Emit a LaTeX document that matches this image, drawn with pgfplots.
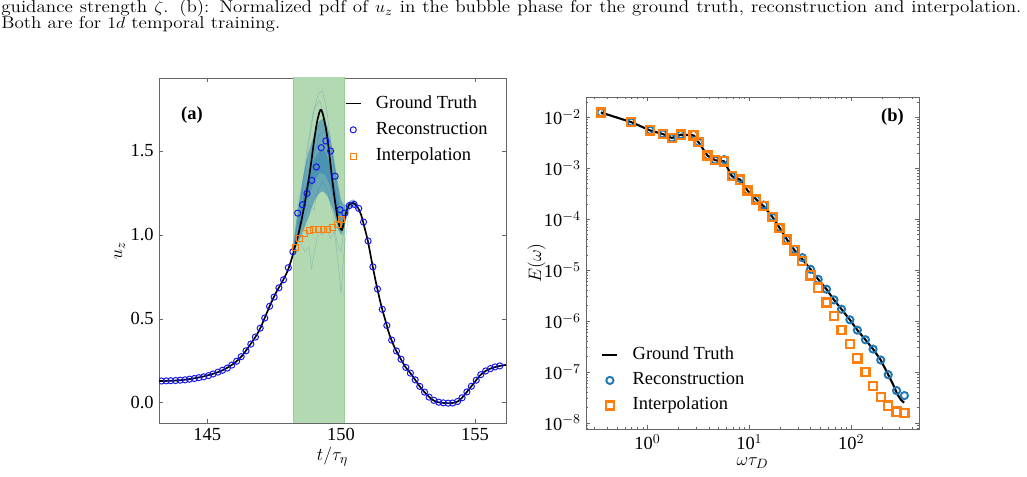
\documentclass[border=0pt]{standalone}
\usepackage{fontspec}
\usepackage{graphicx}
\usepackage{pgfplots}
\pgfplotsset{compat=1.18}
\newfontfamily\timesfont{Liberation Serif}
\newcommand\tfont{\timesfont\fontsize{12.3}{14}\selectfont}

\definecolor{bandgreen}{rgb}{0.698,0.851,0.698}
\definecolor{bandedge}{rgb}{0.60,0.80,0.60}
\definecolor{ensblue}{HTML}{1F77B4}
\definecolor{recblue}{rgb}{0.08,0.08,0.92}
\definecolor{mplblue}{HTML}{1F77B4}
\definecolor{mplorange}{HTML}{FF7F0E}
\definecolor{spine}{rgb}{0.40,0.40,0.40}

\pgfplotsset{
  panel/.style={
    scale only axis,
    tick align=inside,
    tick pos=both,
    axis line style={spine, line width=0.6pt},
    major tick style={spine, line width=0.5pt},
    minor tick style={spine, line width=0.4pt},
    major tick length=2.7pt,
    minor tick length=1.5pt,
    every tick label/.append style={font=\tfont, black},
    label style={font=\tfont},
    /pgf/number format/assume math mode=true,
    clip marker paths=true,
  },
  lineimg/.style={legend image code/.code={\draw[##1] (0pt,0pt) -- (10pt,0pt);}},
  markimg/.style={legend image code/.code={\draw[##1, mark repeat=2, mark phase=2] plot coordinates {(0pt,0pt) (5pt,0pt) (10pt,0pt)};}},
}

\begin{document}
\begin{tikzpicture}
\useasboundingbox (0,0) rectangle (684.67pt,318pt);

% caption lines of the figure
\node[anchor=base west, inner sep=0pt] at (0.7pt,309.5pt)
  {\scalebox{1}[0.9]{\fontsize{12.7}{15}\selectfont\makebox[680pt][s]{guidance strength $\zeta$. (b): Normalized pdf of $u_z$ in the bubble phase for the ground truth, reconstruction and interpolation.}}};
\node[anchor=base west, inner sep=0pt] at (0.7pt,298.8pt)
  {\scalebox{1}[0.9]{\fontsize{12.7}{15}\selectfont Both are for $1d$ temporal training.}};

% ---------------- (a): time series of u_z ----------------
\begin{axis}[
  panel,
  at={(106pt,266pt)}, anchor=north west,
  width=231.3pt, height=230pt,
  xmin=143.2, xmax=156.16, ymin=-0.12, ymax=1.935,
  xtick={145,150,155}, ytick={0,0.5,1,1.5},
  yticklabel style={/pgf/number format/.cd, fixed, fixed zerofill, precision=1},
  xlabel={$t/\tau_\eta$}, ylabel={$u_z$},
  xlabel style={yshift=2.5pt}, ylabel style={yshift=-3pt},
  legend style={at={(0.535,0.951)}, anchor=north west, draw=none, fill=none,
    font=\tfont, row sep=6.3pt, inner sep=0pt,
    nodes={text height=8.6pt, text depth=2.6pt, inner sep=0pt},
    /tikz/every odd column/.append style={column sep=9.5pt}},
  legend cell align=left,
]
% masked interval
\addplot[fill=bandgreen, draw=bandedge, line width=0.5pt, forget plot]
  coordinates {(148.22,-1) (150.11,-1) (150.11,3) (148.22,3)} -- cycle;

% spread of the generated samples
\addplot[fill=ensblue, fill opacity=0.5, draw=none, forget plot] coordinates {
 (148.20,0.915) (148.30,1.05) (148.40,1.17) (148.50,1.27) (148.60,1.36)
 (148.70,1.44) (148.80,1.50) (148.90,1.55) (149.00,1.60) (149.10,1.65)
 (149.20,1.68) (149.30,1.69) (149.40,1.68) (149.50,1.64) (149.60,1.57)
 (149.70,1.49) (149.80,1.39) (149.90,1.29) (150.00,1.21) (150.10,1.18)
 (150.20,1.18) (150.30,1.20) (150.40,1.21) (150.50,1.21) (150.60,1.19)
 (150.60,1.15) (150.50,1.17) (150.40,1.165) (150.30,1.15) (150.20,1.11)
 (150.10,1.04) (150.00,1.00) (149.90,1.03) (149.80,1.09) (149.70,1.15)
 (149.60,1.19) (149.50,1.23) (149.40,1.25) (149.30,1.26) (149.20,1.25)
 (149.10,1.23) (149.00,1.20) (148.90,1.16) (148.80,1.11) (148.70,1.07)
 (148.60,1.03) (148.50,0.99) (148.40,0.96) (148.30,0.93) (148.20,0.905)
} -- cycle;
\addplot[fill=ensblue, fill opacity=0.4, draw=none, forget plot] coordinates {
 (148.40,1.08) (148.60,1.24) (148.80,1.36) (149.00,1.45) (149.20,1.50)
 (149.40,1.50) (149.60,1.42) (149.80,1.27) (149.95,1.13)
 (149.95,1.06) (149.80,1.16) (149.60,1.29) (149.40,1.36) (149.20,1.37)
 (149.00,1.32) (148.80,1.24) (148.60,1.13) (148.40,1.02)
} -- cycle;
\addplot[ensblue, opacity=0.3, line width=0.3pt, forget plot] coordinates {
 (148.22,0.92) (148.45,1.15) (148.70,1.48) (148.95,1.72) (149.15,1.84) (149.30,1.86)
 (149.45,1.76) (149.60,1.58) (149.80,1.35) (150.00,1.12) (150.15,1.12) (150.35,1.18)};
\addplot[ensblue, opacity=0.3, line width=0.3pt, forget plot] coordinates {
 (148.22,0.92) (148.35,0.97) (148.50,0.95) (148.65,0.90) (148.80,0.93) (148.90,0.80)
 (149.00,0.90) (149.15,1.02) (149.30,1.00) (149.45,1.05) (149.60,0.98) (149.75,1.02)
 (149.90,0.82) (150.00,0.65) (150.10,0.88) (150.30,1.15)};
\addplot[ensblue, opacity=0.3, line width=0.3pt, forget plot] coordinates {
 (148.22,0.92) (148.40,1.02) (148.60,1.10) (148.80,1.18) (149.00,1.15) (149.10,1.25)
 (149.30,1.32) (149.50,1.27) (149.70,1.12) (149.85,0.95) (150.00,0.90) (150.15,1.08) (150.35,1.17)};
\addplot[ensblue, opacity=0.3, line width=0.3pt, forget plot] coordinates {
 (148.22,0.92) (148.40,1.10) (148.60,1.30) (148.80,1.55) (149.00,1.75) (149.20,1.80)
 (149.40,1.70) (149.60,1.45) (149.80,1.20) (150.00,1.08) (150.20,1.13)};
\addplot[ensblue, opacity=0.3, line width=0.3pt, forget plot] coordinates {
 (148.22,0.92) (148.45,1.05) (148.70,1.25) (148.95,1.45) (149.20,1.60) (149.45,1.62)
 (149.65,1.50) (149.85,1.25) (150.05,1.00) (150.25,1.14)};

% ground truth
\addplot[black, line width=1.1pt, smooth, lineimg] coordinates {
 (143.20,0.130) (143.60,0.131) (144.00,0.135) (144.40,0.143) (144.80,0.155)
 (145.20,0.172) (145.60,0.196) (146.00,0.235) (146.30,0.280) (146.60,0.345)
 (146.85,0.405) (147.00,0.450) (147.20,0.525) (147.40,0.600) (147.60,0.665)
 (147.80,0.720) (148.00,0.785) (148.15,0.855) (148.28,0.930) (148.40,1.000)
 (148.50,1.070) (148.60,1.150) (148.70,1.240) (148.80,1.340) (148.90,1.450)
 (149.00,1.570) (149.10,1.670) (149.20,1.735) (149.25,1.745) (149.30,1.730)
 (149.35,1.700) (149.45,1.620) (149.55,1.500) (149.65,1.360) (149.75,1.230)
 (149.85,1.120) (149.95,1.050) (150.03,1.030) (150.10,1.070) (150.20,1.140)
 (150.30,1.180) (150.45,1.190) (150.60,1.170) (150.75,1.120) (150.90,1.030)
 (151.00,0.965) (151.15,0.840) (151.30,0.720) (151.50,0.580) (151.65,0.495)
 (151.80,0.410) (152.00,0.330) (152.20,0.270) (152.40,0.215) (152.60,0.175)
 (152.80,0.130) (153.00,0.085) (153.20,0.050) (153.40,0.020) (153.60,0.005)
 (153.80,0.000) (154.00,-0.002) (154.20,0.000) (154.40,0.012) (154.60,0.045)
 (154.80,0.085) (155.00,0.125) (155.20,0.165) (155.40,0.190) (155.60,0.205)
 (155.80,0.215) (156.00,0.222) (156.16,0.226)};
\addlegendentry{Ground Truth}

% reconstruction
\addplot[only marks, mark=o, mark size=2.05pt, recblue, line width=0.65pt, markimg] coordinates {
 (143.29,0.130) (143.47,0.131) (143.64,0.132) (143.82,0.133) (143.99,0.135)
 (144.17,0.137) (144.34,0.141) (144.52,0.145) (144.69,0.150) (144.87,0.155)
 (145.05,0.162) (145.22,0.172) (145.40,0.183) (145.57,0.194) (145.75,0.207)
 (145.92,0.225) (146.10,0.248) (146.27,0.275) (146.45,0.310) (146.63,0.350)
 (146.80,0.392) (146.98,0.445) (147.15,0.505) (147.33,0.575) (147.50,0.630)
 (147.68,0.685) (147.85,0.733) (148.03,0.805) (148.20,0.900) (148.38,1.130)
 (148.56,1.180) (148.73,1.248) (148.91,1.325) (149.08,1.405) (149.26,1.520)
 (149.43,1.560) (149.61,1.500) (149.78,1.350) (149.96,1.150) (150.14,1.130)
 (150.31,1.175) (150.49,1.182) (150.66,1.158) (150.84,1.077) (151.01,0.964)
 (151.19,0.810) (151.36,0.678) (151.54,0.557) (151.71,0.461) (151.89,0.374)
 (152.07,0.309) (152.24,0.260) (152.42,0.211) (152.59,0.177) (152.77,0.137)
 (152.94,0.098) (153.12,0.064) (153.29,0.034) (153.47,0.015) (153.65,0.004)
 (153.82,0.000) (154.00,-0.002) (154.17,-0.001) (154.35,0.008) (154.52,0.030)
 (154.70,0.065) (154.87,0.099) (155.05,0.135) (155.22,0.168) (155.40,0.190)
 (155.58,0.204) (155.75,0.214) (155.93,0.220)};
\addlegendentry{Reconstruction}

% interpolation across the masked interval
\addplot[only marks, mark=square, mark size=2.0pt, mplorange, line width=0.65pt, markimg] coordinates {
 (148.28,0.926) (148.46,0.978) (148.63,1.008) (148.81,1.024) (148.98,1.032)
 (149.16,1.034) (149.33,1.035) (149.51,1.035) (149.68,1.045) (149.86,1.063) (150.03,1.093)};
\addlegendentry{Interpolation}

\node[font=\timesfont\bfseries\fontsize{12.3}{14}\selectfont] at (rel axis cs:0.095,0.893) {(a)};
\end{axis}

% ---------------- (b): spectrum ----------------
\begin{axis}[
  panel,
  at={(390.7pt,253.3pt)}, anchor=north west,
  width=222pt, height=221.3pt,
  xmode=log, ymode=log,
  xmin=0.249, xmax=464, ymin=7.6e-9, ymax=2.51e-2,
  xtick={1,10,100}, xticklabels={10$^{0}$,10$^{1}$,10$^{2}$},
  ytick={1e-8,1e-7,1e-6,1e-5,1e-4,1e-3,1e-2},
  yticklabels={10$^{-8}$,10$^{-7}$,10$^{-6}$,10$^{-5}$,10$^{-4}$,10$^{-3}$,10$^{-2}$},
  minor xtick={0.3,0.4,0.5,0.6,0.7,0.8,0.9,2,3,4,5,6,7,8,9,20,30,40,50,60,70,80,90,200,300,400},
  minor ytick={8e-9,9e-9,2e-8,3e-8,4e-8,5e-8,6e-8,7e-8,8e-8,9e-8,
    2e-7,3e-7,4e-7,5e-7,6e-7,7e-7,8e-7,9e-7,2e-6,3e-6,4e-6,5e-6,6e-6,7e-6,8e-6,9e-6,
    2e-5,3e-5,4e-5,5e-5,6e-5,7e-5,8e-5,9e-5,2e-4,3e-4,4e-4,5e-4,6e-4,7e-4,8e-4,9e-4,
    2e-3,3e-3,4e-3,5e-3,6e-3,7e-3,8e-3,9e-3,2e-2},
  xlabel={$\omega\tau_D$}, ylabel={$E(\omega)$},
  xlabel style={yshift=1.2pt}, ylabel style={yshift=-8pt},
  legend style={at={(0.045,0.248)}, anchor=north west, draw=none, fill=none,
    font=\tfont, row sep=5.5pt, inner sep=0pt,
    nodes={text height=8.6pt, text depth=2.6pt, inner sep=0pt},
    /tikz/every odd column/.append style={column sep=9.5pt}},
  legend cell align=left,
]
\addplot[black, line width=1.4pt, lineimg] coordinates {
 (0.348,1.25e-2) (0.69,8.1e-3) (1.06,5.55e-3) (1.41,4.72e-3) (1.73,3.94e-3)
 (2.12,4.58e-3) (2.83,4.44e-3) (3.17,3.24e-3) (3.88,1.78e-3) (4.62,1.44e-3)
 (5.66,1.37e-3) (6.73,7.0e-4) (8.13,6.0e-4) (9.6,3.66e-4) (11.7,2.44e-4)
 (13.8,1.81e-4) (16.9,1.10e-4) (19.8,6.8e-5) (23.4,4.0e-5) (27.8,2.45e-5)
 (33.1,1.65e-5) (39.9,1.04e-5) (47.4,6.62e-6) (57.2,4.22e-6) (67.8,2.61e-6)
 (80.3,1.71e-6) (97.1,1.06e-6) (115,6.64e-7) (138,4.3e-7) (164,2.82e-7)
 (195,1.72e-7) (231,8.87e-8) (260,5.5e-8) (285,3.6e-8) (310,2.8e-8) (331,2.5e-8)};
\addlegendentry{Ground Truth}

\addplot[only marks, mark=o, mark size=2.4pt, mplblue, line width=1.3pt, markimg] coordinates {
 (0.348,1.25e-2) (0.69,8.1e-3) (1.06,5.6e-3) (1.41,4.75e-3) (1.73,3.95e-3)
 (2.12,4.6e-3) (2.83,4.65e-3) (3.17,3.25e-3) (3.88,1.8e-3) (4.62,1.45e-3)
 (5.66,1.48e-3) (6.73,7.0e-4) (8.13,6.3e-4) (9.6,3.7e-4) (11.7,2.45e-4)
 (13.8,1.9e-4) (16.9,1.1e-4) (19.8,6.9e-5) (23.4,4.0e-5) (27.8,2.55e-5)
 (33.1,1.76e-5) (39.9,1.04e-5) (47.4,6.62e-6) (57.2,4.22e-6) (67.8,2.61e-6)
 (80.3,1.71e-6) (97.1,1.06e-6) (115,6.64e-7) (138,4.3e-7) (164,2.82e-7)
 (195,1.72e-7) (231,8.87e-8) (279,4.31e-8) (333,3.44e-8)};
\addlegendentry{Reconstruction}

\addplot[only marks, mark=square, mark size=2.7pt, mplorange, line width=1.5pt, markimg] coordinates {
 (0.348,1.25e-2) (0.69,8.1e-3) (1.06,5.55e-3) (1.41,4.72e-3) (1.73,3.94e-3)
 (2.12,4.58e-3) (2.83,4.44e-3) (3.17,3.24e-3) (3.88,1.78e-3) (4.62,1.44e-3)
 (5.66,1.37e-3) (6.73,7.0e-4) (8.13,6.0e-4) (9.6,3.66e-4) (11.7,2.44e-4)
 (13.8,1.81e-4) (16.9,1.10e-4) (19.8,6.8e-5) (23.4,4.0e-5) (27.8,2.45e-5)
 (33.1,1.51e-5) (39.9,7.9e-6) (47.4,4.55e-6) (57.2,2.31e-6) (67.8,1.27e-6)
 (80.3,6.64e-7) (97.1,3.53e-7) (115,1.85e-7) (138,9.86e-8) (164,5.25e-8)
 (195,3.19e-8) (231,2.19e-8) (279,1.67e-8) (333,1.57e-8)};
\addlegendentry{Interpolation}

\node[font=\timesfont\bfseries\fontsize{12.3}{14}\selectfont] at (rel axis cs:0.92,0.94) {(b)};
\end{axis}
\end{tikzpicture}
\end{document}
